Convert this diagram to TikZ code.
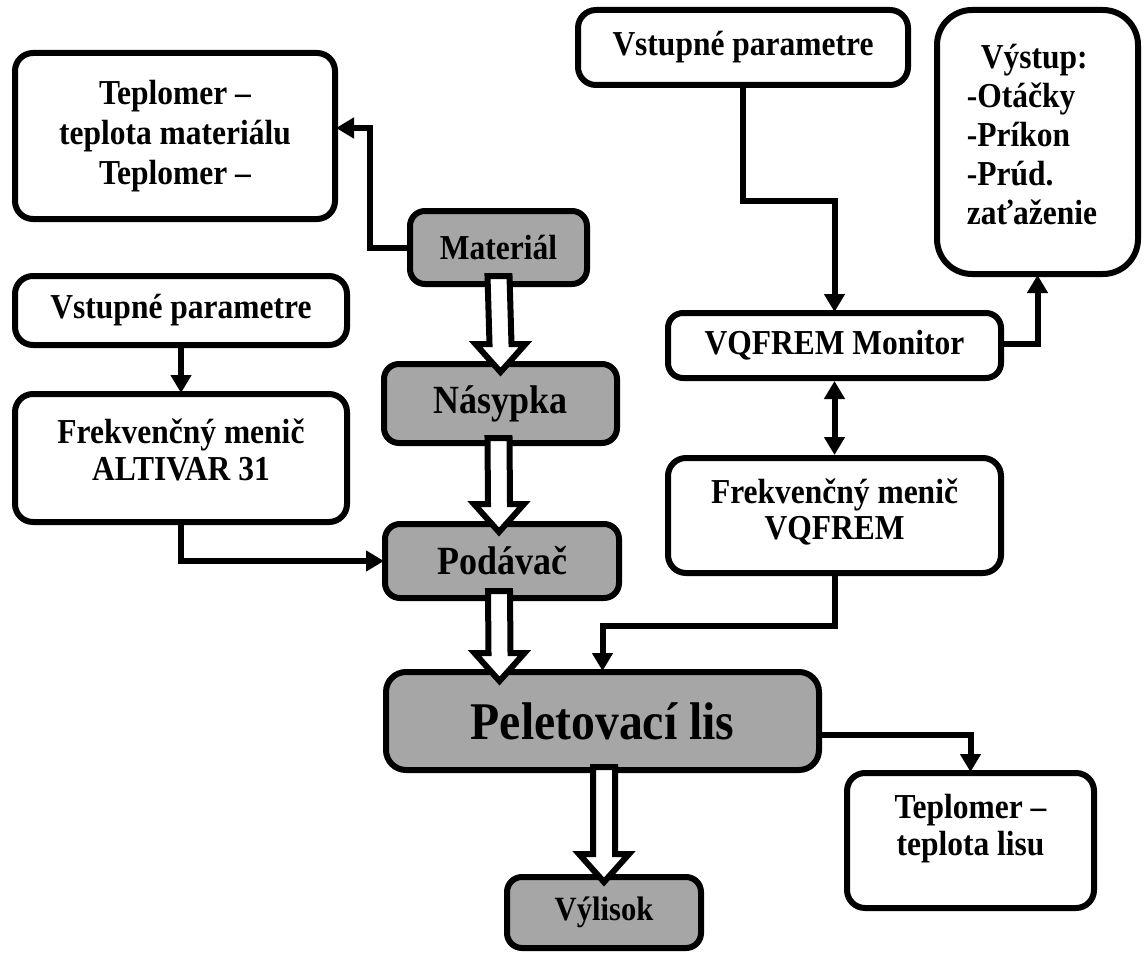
\documentclass[tikz,border=0pt]{standalone}
\usepackage{fontspec}
\setmainfont[FakeStretch=0.9]{Liberation Serif}
\usetikzlibrary{arrows.meta,calc}
\definecolor{boxgray}{HTML}{A6A6A6}
\tikzset{
  box/.style={draw=black, line width=6pt, rounded corners=18pt, fill=white, align=center, inner sep=0pt,
    font=\bfseries\fontsize{35}{40}\selectfont},
  graybox/.style={box, fill=boxgray},
  txt/.style={inner sep=0pt, font=\bfseries\fontsize{35}{40}\selectfont},
  conn/.style={line width=6pt, -{Triangle[length=18pt,width=20pt]}, shorten >=-2pt},
  biconn/.style={line width=6pt, {Triangle[length=18pt,width=20pt]}-{Triangle[length=18pt,width=20pt]}},
  hollow/.style={draw=black, fill=white, line width=6pt, line join=miter},
}
\newcommand{\hollowarrow}[2]{%
  \draw[hollow] ($#1+(-11,0)$) -- ($#2+(-11,-28)$) -- ($#2+(-25,-28)$) -- #2
    -- ($#2+(25,-28)$) -- ($#2+(11,-28)$) -- ($#1+(11,0)$) -- cycle;}
\begin{document}
\begin{tikzpicture}[x=1pt,y=-1pt]
\useasboundingbox (0,0) rectangle (1145,955);

% boxes
\node[box, minimum width=320pt, minimum height=166pt] (tm) at (175,136) {Teplomer --\\teplota materiálu\\Teplomer --};
\node[box, minimum width=332pt, minimum height=69pt] (vpL) at (181,310.5) {Vstupné parametre};
\node[box, minimum width=332pt, minimum height=128pt] (altivar) at (181,458) {};
\node[txt, align=center, font=\bfseries\fontsize{35}{37}\selectfont] (altivarT) at (181,449.5) {Frekvenčný menič\\ALTIVAR 31};
\node[box, minimum width=330pt, minimum height=75pt] (vpR) at (743,47.5) {Vstupné parametre};
\node[box, rounded corners=35pt, minimum width=201pt, minimum height=264pt] (vystup) at (1037.5,142) {};
\node[txt, align=left, font=\bfseries\fontsize{35}{39}\selectfont] (vystupT) at (1032,135) {\hspace*{14pt}Výstup:\\-Otáčky\\-Príkon\\-Prúd.\\zaťaženie};
\node[box, rounded corners=15pt, minimum width=333pt, minimum height=65pt] (monitor) at (834.5,345.5) {VQFREM Monitor};
\node[box, minimum width=333pt, minimum height=115pt] (vqf) at (834.5,515.5) {};
\node[txt, align=center, font=\bfseries\fontsize{35}{36}\selectfont] (vqfT) at (834.5,512) {Frekvenčný menič\\VQFREM};
\node[graybox, rounded corners=15pt, minimum width=177pt, minimum height=73pt] (mat) at (498.5,247.5) {Materiál};
\node[graybox, rounded corners=15pt, minimum width=233pt, minimum height=79pt, font=\bfseries\fontsize{40}{42}\selectfont] (nas) at (500.5,403.5) {Násypka};
\node[graybox, rounded corners=15pt, minimum width=234pt, minimum height=74pt, font=\bfseries\fontsize{40}{42}\selectfont] (pod) at (502,561) {Podávač};
\node[graybox, rounded corners=20pt, minimum width=433pt, minimum height=98pt, font=\bfseries\fontsize{53}{56}\selectfont] (pel) at (602.5,721) {Peletovací lis};
\node[graybox, rounded corners=15pt, minimum width=194pt, minimum height=71pt, font=\bfseries\fontsize{34}{38}\selectfont] (vyl) at (604,912.5) {Výlisok};
\node[box, minimum width=247pt, minimum height=135pt] (tl) at (970.5,840.5) {};
\node[txt, align=center, font=\bfseries\fontsize{35}{37}\selectfont] (tlT) at (970.5,828.5) {Teplomer --\\teplota lisu};

% connectors
\draw[conn] (mat.west) -- ++(-37,0) |- ($(tm.east)+(0,-8)$);
\draw[conn] (vpL.south) -- (altivar.north);
\draw[conn] (altivar.south) |- (pod.west);
\draw[conn] (vpR.south) -- ++(0,113) -| (monitor.north);
\draw[conn] ($(monitor.east)+(0,-2)$) -| (vystup.south);
\draw[biconn] (monitor.south) -- (vqf.north);
\draw[conn] (vqf.south) -- ++(0,50) -| (pel.north);
\draw[conn] ($(pel.east)+(0,14)$) -| (tl.north);

% hollow flow arrows
\coordinate (h1s) at ($(mat.south)+(0,-11)$);
\coordinate (h1t) at ($(nas.north)+(0,11)$);
\hollowarrow{(h1s)}{(h1t)}
\coordinate (h2s) at ($(nas.south)+(-2,-8)$);
\coordinate (h2t) at ($(pod.north)+(-3,11)$);
\hollowarrow{(h2s)}{(h2t)}
\coordinate (h3s) at ($(pod.south)+(-3,-10)$);
\coordinate (h3t) at ($(pel.north)+(-103,12)$);
\hollowarrow{(h3s)}{(h3t)}
\coordinate (h4s) at ($(vyl.north)+(0,-107)$);
\coordinate (h4t) at ($(vyl.north)+(0,8)$);
\hollowarrow{(h4s)}{(h4t)}
\end{tikzpicture}
\end{document}
